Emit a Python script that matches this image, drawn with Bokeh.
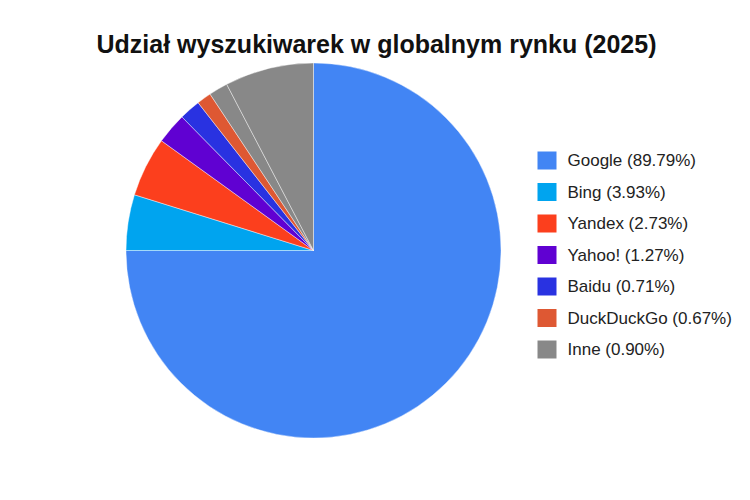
import math
from bokeh.plotting import figure
from bokeh.models import Range1d, ColumnDataSource
from bokeh.core.properties import value
from bokeh.embed import file_html
from bokeh.resources import INLINE

# Slice sizes as drawn in the picture (percent of the full circle)
slice_names = ["Google", "Bing", "Yandex", "Yahoo!", "Baidu", "DuckDuckGo", "Inne", "Inne (2)"]
slice_values = [75.0, 4.8, 5.15, 2.67, 1.83, 1.25, 1.64, 7.66]
slice_colors = ["#4285F4", "#00A4EF", "#FC3F1D", "#6001D2", "#2932E1", "#DE5833", "#888888", "#888888"]

# Legend entries (labels as printed)
legend_labels = ["Google (89.79%)", "Bing (3.93%)", "Yandex (2.73%)", "Yahoo! (1.27%)",
                 "Baidu (0.71%)", "DuckDuckGo (0.67%)", "Inne (0.90%)"]
legend_colors = ["#4285F4", "#00A4EF", "#FC3F1D", "#6001D2", "#2932E1", "#DE5833", "#888888"]

title_text = "Udział wyszukiwarek w globalnym rynku (2025)"

W, H = 734, 484
p = figure(width=W, height=H, output_backend="svg", toolbar_location=None,
           x_range=Range1d(0, W), y_range=Range1d(0, H), min_border=0)
p.axis.visible = False
p.grid.visible = False
p.outline_line_color = None

# pie
cx, cy, r = 313, 234, 187.5
total = sum(slice_values)
starts, ends = [], []
cum = 0.0
for v in slice_values:
    a0 = math.pi / 2 - 2 * math.pi * (cum + v) / total
    a1 = math.pi / 2 - 2 * math.pi * cum / total
    starts.append(a0)
    ends.append(a1)
    cum += v
src = ColumnDataSource(dict(x=[cx] * len(slice_values), y=[cy] * len(slice_values),
                            start=starts, end=ends, color=slice_colors))
p.wedge(x="x", y="y", radius=r, start_angle="start", end_angle="end",
        fill_color="color", line_color="white", line_width=0.6, line_alpha=0.7, source=src)

# legend
n = len(legend_labels)
ly = [324 - 31.5 * i for i in range(n)]
lsrc = ColumnDataSource(dict(x=[546.5] * n, y=ly, tx=[567] * n, label=legend_labels, color=legend_colors))
p.rect(x="x", y="y", width=19, height=18, fill_color="color", line_color=None, source=lsrc)
p.text(x="tx", y="y", text="label", source=lsrc, text_font=value("Liberation Sans"),
       text_font_size="17px", text_baseline="middle", text_align="left", text_color="#222222")

# title
p.text(x=[376], y=[441], text=[title_text], text_font=value("Liberation Sans"),
       text_font_size="25px", text_font_style="bold", text_align="center",
       text_baseline="middle", text_color="#111111")

open("out.html", "w").write(file_html(p, INLINE))
